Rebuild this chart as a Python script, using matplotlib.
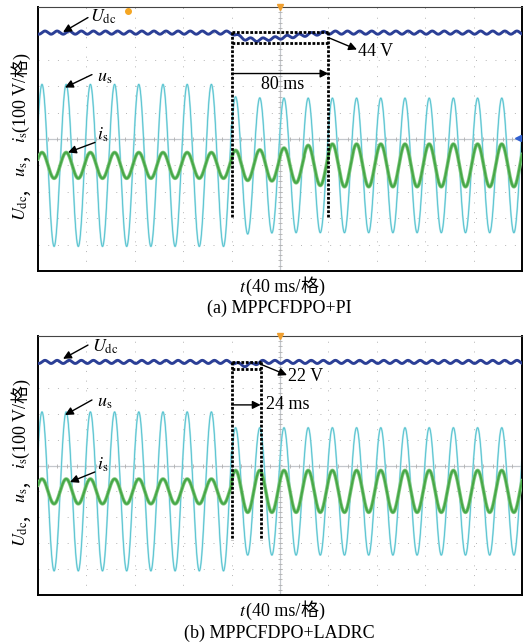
import numpy as np
import matplotlib.pyplot as plt

plt.rcParams['mathtext.fontset'] = 'stix'
plt.rcParams['font.family'] = ['Liberation Serif', 'Noto Sans CJK SC']

W, H = 531, 644
FS = 13
SERIF = 'Liberation Serif'
CJK = 'Noto Sans CJK SC'

# scope settings: 10 div x 40 ms, 10 div x 100 V
T_END = 400
STEP_T = 160
CREST_T = 3.3          # ms, first u_s crest
SEG_MS = 20            # one mains cycle (50 Hz)

# amplitudes per 20 ms cycle, in divisions
us_amp_a = [3.07, 3.07, 3.07, 3.07, 3.07, 3.07, 3.07, 3.07,
            2.60, 2.56, 2.55, 2.55, 2.55, 2.55, 2.55, 2.55, 2.55, 2.55, 2.55, 2.55]
is_amp_a = [0.49, 0.49, 0.49, 0.49, 0.49, 0.49, 0.49, 0.49,
            0.57, 0.59, 0.66, 0.76, 0.81, 0.81, 0.81, 0.81, 0.81, 0.81, 0.81, 0.81]
us_amp_b = [3.07, 3.07, 3.07, 3.07, 3.07, 3.07, 3.07, 3.07,
            2.46, 2.46, 2.46, 2.46, 2.46, 2.46, 2.46, 2.46, 2.46, 2.46, 2.46, 2.46]
is_amp_b = [0.48, 0.48, 0.48, 0.48, 0.48, 0.48, 0.48, 0.48,
            0.81, 0.81, 0.81, 0.81, 0.81, 0.81, 0.81, 0.81, 0.81, 0.81, 0.81, 0.81]
ac_offset = -1.0       # u_s, i_s channel offset (div)

# dc-link voltage level and dip after the load step (div)
udc_level_a = 4.03
udc_level_b = 4.00
udc_ripple = 0.06
dip_t_a = [160, 166, 172, 181, 195, 210, 225, 240]
dip_v_a = [0.0, -0.15, -0.24, -0.28, -0.22, -0.14, -0.06, 0.0]
dip_t_b = [160, 166, 172, 178, 184]
dip_v_b = [0.0, -0.10, -0.13, -0.08, 0.0]

C_UDC = '#2b3f96'
C_US = '#4fc0cd'
C_IS = '#47a847'
C_GRID = '#b4b4b4'

t = np.linspace(0, T_END, 8001)
seg = np.minimum((t // SEG_MS).astype(int), 19)
carrier = np.cos(2 * np.pi * (t - CREST_T) / SEG_MS)
ripple = np.sin(2 * np.pi * (t - CREST_T) / (SEG_MS / 2))

fig = plt.figure(figsize=(W / 100, H / 100), dpi=100)


def px_axes(left, top, right, bottom):
    return fig.add_axes([left / W, 1 - bottom / H, (right - left) / W, (bottom - top) / H])


def scope_grid(ax):
    for k in range(1, 10):
        if k != 5:
            ax.axvline(k * 40, color=C_GRID, lw=0.7, ls=(0, (1, 9)), zorder=1)
    for k in range(-4, 5):
        if k != 0:
            ax.axhline(k, color=C_GRID, lw=0.7, ls=(0, (1, 9)), zorder=1)
    ax.axhline(0, color='#c3c7cc', lw=0.9, zorder=1)
    ax.axvline(200, color='#c3c7cc', lw=0.9, zorder=1)
    xs = np.arange(0, 401, 8)
    ax.plot(xs, np.zeros_like(xs), ls='none', marker='|', ms=3.5, mew=0.6, color='#b0b0b0', zorder=1)
    ys = np.arange(-5, 5.01, 0.2)
    ax.plot(np.full_like(ys, 200), ys, ls='none', marker='_', ms=3.5, mew=0.6, color='#b0b0b0', zorder=1)
    ax.set_xlim(0, T_END)
    ax.set_ylim(-5, 5)
    ax.set_xticks([])
    ax.set_yticks([])
    for s in ax.spines.values():
        s.set_linewidth(1.4)
        s.set_color('k')
    ax.spines['top'].set_linewidth(0.8)
    ax.spines['top'].set_color('#444444')


def traces(ax, us_amp, is_amp, udc_level, dip_t, dip_v):
    us = ac_offset + np.asarray(us_amp)[seg] * carrier
    i_s = ac_offset + np.asarray(is_amp)[seg] * carrier
    udc = udc_level + np.interp(t, dip_t, dip_v) + udc_ripple * ripple
    ax.plot(t, us, color='#b2e5eb', lw=1.4, zorder=2)
    ax.plot(t, us, color=C_US, lw=0.6, zorder=2)
    ax.plot(t, i_s, color='#86ca86', lw=2.6, zorder=3)
    ax.plot(t, i_s, color=C_IS, lw=1.5, zorder=3)
    ax.plot(t, udc, color=C_UDC, lw=2.1, zorder=4)


def arrow(ax, tail, head, lw=1.0):
    ax.annotate('', xy=head, xytext=tail,
                arrowprops=dict(arrowstyle='-|>', color='k', lw=lw, mutation_scale=12,
                                shrinkA=0, shrinkB=0), zorder=6)


def dotted(ax, xs, ys):
    ax.plot(xs, ys, color='k', lw=2.0, ls=(0, (1.0, 0.6)), zorder=5, solid_capstyle='butt')


def trace_labels(ax, udc_xy, udc_arr, us_xy, us_arr, is_xy, is_arr):
    ax.text(*udc_xy, r'$U_{\mathrm{dc}}$', fontsize=FS, ha='left', va='baseline', zorder=6)
    arrow(ax, *udc_arr)
    ax.text(*us_xy, r'$u_{\mathrm{s}}$', fontsize=FS, ha='left', va='baseline', zorder=6)
    arrow(ax, *us_arr)
    ax.text(*is_xy, r'$i_{\mathrm{s}}$', fontsize=FS, ha='left', va='baseline', zorder=6)
    arrow(ax, *is_arr)


def piece_widths(pieces):
    # advance widths measured on unrotated scratch texts (pixels)
    r = fig.canvas.get_renderer()
    out = []
    for s, fam in pieces:
        tmp = fig.text(0, 0, s, fontsize=FS, family=fam, ha='left', va='baseline')
        out.append(tmp.get_window_extent(r).width)
        tmp.remove()
    return out


def chain(pieces, base, center, rot=0):
    # lay pieces along a common baseline; base is the baseline position (px)
    widths = piece_widths(pieces)
    pos = center - sum(widths) / 2
    for (s, fam), w in zip(pieces, widths):
        if rot == 0:
            xy = (pos / W, base / H)
        else:
            xy = (base / W, pos / H)
        fig.text(*xy, s, fontsize=FS, family=fam, rotation=rot, rotation_mode='anchor',
                 ha='left', va='baseline')
        pos += w


ylab = [(r'$U_{\mathrm{dc}}$', SERIF), ('，', CJK), (r'$u_{\mathrm{s}}$', SERIF), ('，', CJK),
        (r'$i_{\mathrm{s}}$', SERIF), ('(100 V/', SERIF), ('格', CJK), (')', SERIF)]
xlab = [(r'$t$', SERIF), ('(40 ms/', SERIF), ('格', CJK), (')', SERIF)]

# ---------------- (a) MPPCFDPO+PI ----------------
ax_a = px_axes(38, 7, 522, 271)
scope_grid(ax_a)
traces(ax_a, us_amp_a, is_amp_a, udc_level_a, dip_t_a, dip_v_a)
trace_labels(ax_a, (43, 4.45), ((41.3, 4.6), (20.7, 4.05)),
             (48.8, 2.18), ((44.6, 2.44), (22.3, 1.95)),
             (48.8, -0.02), ((47.1, -0.13), (24.8, -0.51)))
dotted(ax_a, [160, 240], [4.07, 4.07])
dotted(ax_a, [160, 240], [3.62, 3.62])
dotted(ax_a, [160, 160], [4.07, -2.94])
dotted(ax_a, [240, 240], [4.07, -2.94])
arrow(ax_a, (160, 2.48), (240, 2.48))
ax_a.text(202, 2.08, '80 ms', fontsize=FS, ha='center', va='center', zorder=6)
arrow(ax_a, (240, 3.84), (263.6, 3.39))
ax_a.text(264.5, 3.33, '44 V', fontsize=FS, ha='left', va='center', zorder=6)
ax_a.plot(200, 5, marker='v', ms=4, color='#f0a030', clip_on=False, zorder=7)
ax_a.plot(74.4, 4.83, marker='o', ms=4, color='#f5a623', clip_on=False, zorder=7)
ax_a.plot(397, 0.05, marker='<', ms=4, color='#3060d0', clip_on=False, zorder=7)

# ---------------- (b) MPPCFDPO+LADRC ----------------
ax_b = px_axes(38, 336, 522, 595)
scope_grid(ax_b)
traces(ax_b, us_amp_b, is_amp_b, udc_level_b, dip_t_b, dip_v_b)
trace_labels(ax_b, (45, 4.38), ((41.3, 4.65), (20.7, 4.12)),
             (48.8, 2.26), ((44.6, 2.53), (22.3, 1.95)),
             (48.8, -0.17), ((47, -0.25), (26.4, -0.64)))
dotted(ax_b, [160, 184], [4.01, 4.01])
dotted(ax_b, [160, 184], [3.71, 3.71])
dotted(ax_b, [160, 160], [4.01, -2.88])
dotted(ax_b, [184, 184], [4.01, -2.88])
arrow(ax_b, (160, 2.34), (184, 2.34))
ax_b.text(188.4, 2.34, '24 ms', fontsize=FS, ha='left', va='center', zorder=6)
arrow(ax_b, (183.5, 3.92), (205.8, 3.49))
ax_b.text(206.6, 3.42, '22 V', fontsize=FS, ha='left', va='center', zorder=6)
ax_b.plot(200, 5, marker='v', ms=4, color='#f0a030', clip_on=False, zorder=7)

# axis labels and captions (pixel positions measured from the bottom-left)
chain(ylab, 26, H - 137, rot=90)
chain(ylab, 26, H - 463, rot=90)
chain(xlab, H - 292, 282)
chain(xlab, H - 616, 282)
fig.text(279 / W, 1 - 313 / H, '(a) MPPCFDPO+PI', fontsize=FS, ha='center', va='baseline')
fig.text(279 / W, 1 - 638 / H, '(b) MPPCFDPO+LADRC', fontsize=FS, ha='center', va='baseline')

fig.savefig('out.png', dpi=100)
